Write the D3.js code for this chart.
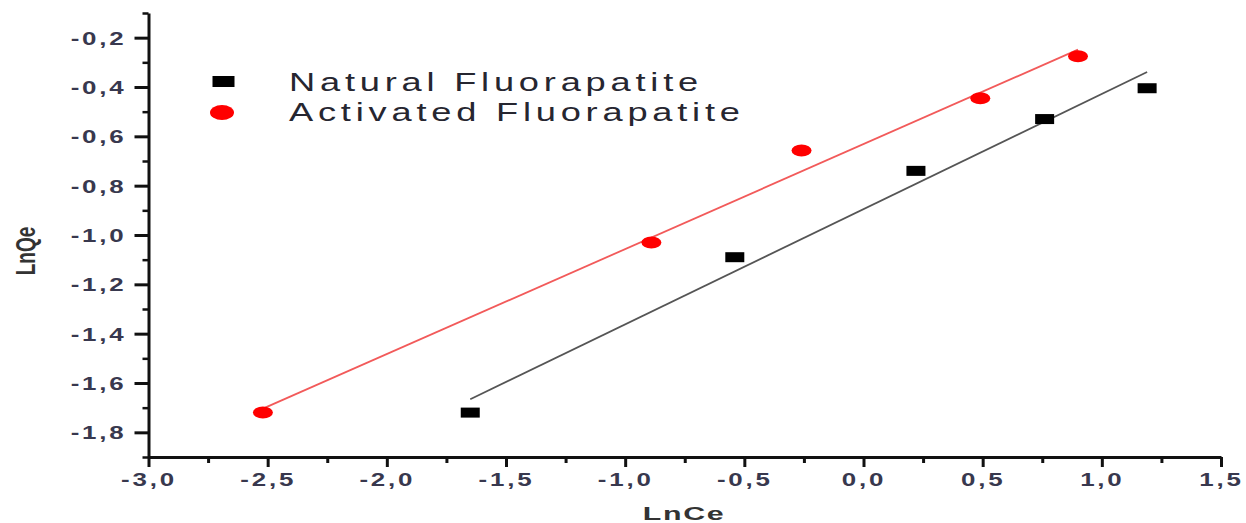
<!DOCTYPE html>
<html>
<head>
<meta charset="utf-8">
<script src="https://cdn.jsdelivr.net/npm/d3@7"></script>
<style>
body { margin: 0; background: #fff; }
</style>
</head>
<body>
<div class="vis-area"></div>
<script>
var width = 1246;
var height = 523;

// values
var naturalLnCe = [-1.65, -0.54, 0.22, 0.76, 1.19];
var naturalLnQe = [-1.72, -1.09, -0.74, -0.53, -0.405];
var activatedLnCe = [-2.52, -0.89, -0.26, 0.49, 0.90];
var activatedLnQe = [-1.72, -1.03, -0.657, -0.446, -0.275];
var seriesNames = ['Natural Fluorapatite', 'Activated Fluorapatite'];

var xTicks = [-3.0, -2.5, -2.0, -1.5, -1.0, -0.5, 0.0, 0.5, 1.0, 1.5];
var xMinorTicks = [-2.75, -2.25, -1.75, -1.25, -0.75, -0.25, 0.25, 0.75, 1.25];
var yTicks = [-1.8, -1.6, -1.4, -1.2, -1.0, -0.8, -0.6, -0.4, -0.2];
var yMinorTicks = [-1.9, -1.7, -1.5, -1.3, -1.1, -0.9, -0.7, -0.5, -0.3, -0.1];

var labelColor = '#38384e';
var font = 'Arial, "Liberation Sans", sans-serif';

var svg = d3.select('.vis-area')
  .append('svg')
  .attr('width', width)
  .attr('height', height)
  .style('display', 'block')
  .style('background', '#fff');

var x = d3.scaleLinear().domain([-3.0, 1.5]).range([148.5, 1221]);
var y = d3.scaleLinear().domain([-1.9, -0.1]).range([457, 13]);

function fmt(d) {
  return d.toFixed(1).replace('.', ',');
}

// minor ticks first, majors + axis lines on top
svg.append('g')
  .attr('transform', 'translate(0,' + y(-1.9) + ')')
  .call(d3.axisBottom(x).tickValues(xMinorTicks).tickSize(6).tickFormat(''))
  .call(g => g.select('.domain').remove())
  .selectAll('line').attr('stroke', '#111').attr('stroke-width', 3);

svg.append('g')
  .attr('transform', 'translate(' + x(-3.0) + ',0)')
  .call(d3.axisLeft(y).tickValues(yMinorTicks).tickSize(6).tickFormat(''))
  .call(g => g.select('.domain').remove())
  .selectAll('line').attr('stroke', '#111').attr('stroke-width', 2.5);

var xAxis = svg.append('g')
  .attr('transform', 'translate(0,' + y(-1.9) + ')')
  .call(d3.axisBottom(x).tickValues(xTicks).tickSize(10).tickSizeOuter(0).tickFormat(fmt));

var yAxis = svg.append('g')
  .attr('transform', 'translate(' + x(-3.0) + ',0)')
  .call(d3.axisLeft(y).tickValues(yTicks).tickSize(14).tickSizeOuter(0).tickFormat(fmt));

[xAxis, yAxis].forEach(function(g) {
  g.select('.domain').attr('stroke', '#111').attr('stroke-width', 3);
  g.selectAll('.tick line').attr('stroke', '#111').attr('stroke-width', 3);
  g.selectAll('text')
    .attr('fill', labelColor)
    .style('font-family', font)
    .style('font-size', '18.5px')
    .style('font-weight', 'bold')
    .style('letter-spacing', '2px');
});

xAxis.selectAll('text')
  .attr('y', 29)
  .attr('dy', 0)
  .attr('transform', 'scale(1.4,1)');

yAxis.selectAll('text')
  .attr('x', 0)
  .attr('dy', '0.36em')
  .attr('transform', 'translate(-22,0) scale(1.4,1)');

// axis titles
svg.append('text')
  .attr('transform', 'translate(684,520) scale(1.6,1)')
  .attr('text-anchor', 'middle')
  .style('font-family', font)
  .style('font-size', '19px')
  .style('font-weight', 'bold')
  .style('letter-spacing', '1px')
  .attr('fill', '#333')
  .text('LnCe');

svg.append('text')
  .attr('transform', 'translate(35,251) rotate(-90) scale(1,1.45)')
  .attr('text-anchor', 'middle')
  .style('font-family', font)
  .style('font-size', '19px')
  .style('font-weight', 'bold')
  .attr('fill', '#333')
  .text('LnQe');

// least squares fit for each series
function fitLine(xs, ys) {
  var mx = d3.mean(xs), my = d3.mean(ys);
  var sxy = d3.sum(xs, (v, i) => (v - mx) * (ys[i] - my));
  var sxx = d3.sum(xs, v => (v - mx) * (v - mx));
  var slope = sxy / sxx;
  var x0 = d3.min(xs), x1 = d3.max(xs);
  return [[x0, my + slope * (x0 - mx)], [x1, my + slope * (x1 - mx)]];
}

var line = d3.line().x(d => x(d[0])).y(d => y(d[1]));

svg.append('path')
  .attr('d', line(fitLine(naturalLnCe, naturalLnQe)))
  .attr('fill', 'none')
  .attr('stroke', '#555')
  .attr('stroke-width', 1.8);

svg.append('path')
  .attr('d', line(fitLine(activatedLnCe, activatedLnQe)))
  .attr('fill', 'none')
  .attr('stroke', '#f25a5a')
  .attr('stroke-width', 1.8);

var naturalPts = naturalLnCe.map((v, i) => [v, naturalLnQe[i]]);
var activatedPts = activatedLnCe.map((v, i) => [v, activatedLnQe[i]]);

svg.selectAll('.natural')
  .data(naturalPts)
  .enter()
  .append('rect')
  .attr('class', 'natural')
  .attr('x', d => x(d[0]) - 9.5)
  .attr('y', d => y(d[1]) - 5)
  .attr('width', 19)
  .attr('height', 10)
  .attr('fill', '#000');

svg.selectAll('.activated')
  .data(activatedPts)
  .enter()
  .append('ellipse')
  .attr('class', 'activated')
  .attr('cx', d => x(d[0]))
  .attr('cy', d => y(d[1]))
  .attr('rx', 10)
  .attr('ry', 6)
  .attr('fill', '#ff0000');

// legend
var legend = svg.append('g');
legend.append('rect')
  .attr('x', 212.5).attr('y', 76)
  .attr('width', 22).attr('height', 11)
  .attr('fill', '#000');
legend.append('ellipse')
  .attr('cx', 222).attr('cy', 112.5)
  .attr('rx', 12).attr('ry', 7.5)
  .attr('fill', '#ff0000');

legend.selectAll('.legend-text')
  .data(seriesNames)
  .enter()
  .append('text')
  .attr('class', 'legend-text')
  .attr('transform', (d, i) => 'translate(289,' + (90.7 + i * 30) + ') scale(1.45,1)')
  .style('font-family', font)
  .style('font-size', '25px')
  .style('letter-spacing', '3.3px')
  .attr('fill', '#262630')
  .text(d => d);
</script>
</body>
</html>
